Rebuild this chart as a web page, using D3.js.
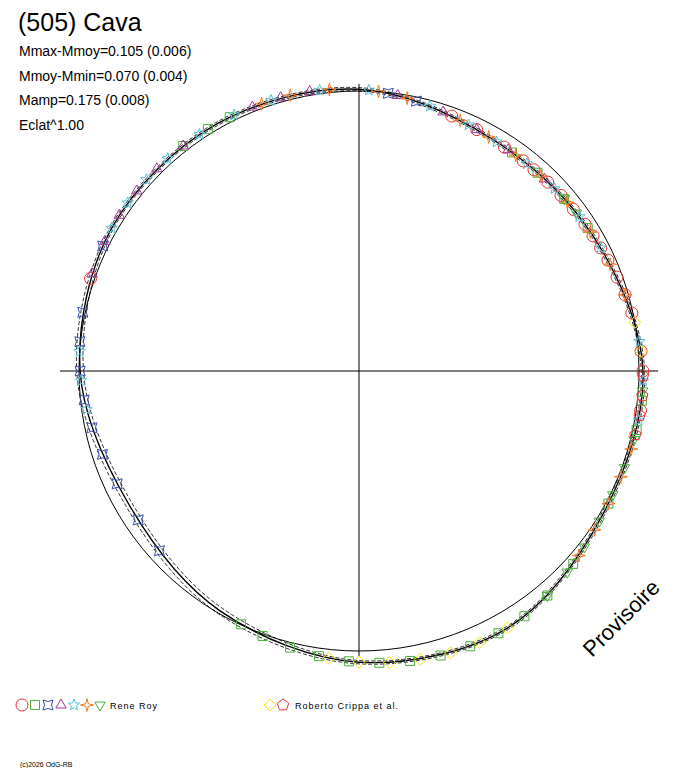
<!DOCTYPE html>
<html><head><meta charset="utf-8">
<script src="https://cdn.jsdelivr.net/npm/d3@7"></script>
<style>body{margin:0;background:#fff}text{font-family:"Liberation Sans",Arial,sans-serif}</style>
</head><body><div id="chart"></div>
<script>
// lightcurve radius (relative to 1.0 = mean) every 30 deg of rotational phase
var curveAngles = [0,30,60,90,120,150,180,210,240,270,300,330];
var curveRadii  = [1.006,0.955,0.965,1.014,1.01,1.06,1.04,0.99,0.95,0.996,1.02,1.018];
var stats = ["Mmax-Mmoy=0.105 (0.006)","Mmoy-Mmin=0.070 (0.004)","Mamp=0.175 (0.008)","Eclat^1.00"];

// observation phases (deg) per session
var series = [
  {name:"circle",   color:"#e8322e", who:"Roy",    phases:[20,26,33,38,41,45,49,53,57,60,63,66,70,74,78,86,90,98,289]},
  {name:"square",   color:"#4caf3c", who:"Roy",    phases:[322,328,333,35,42,50,58,96,102,118,132,140,146,152,158,164,170,176,182,188,194,200,205]},
  {name:"xstar",    color:"#3a4fa8", who:"Roy",    phases:[6,12,228,236,245,252,258,264,270,276,282,296]},
  {name:"triangle", color:"#a03595", who:"Roy",    phases:[290,297,303,309,315,322,338,344,350,8,18,26,34,44]},
  {name:"star",     color:"#5bc0de", who:"Roy",    phases:[300,306,312,318,326,334,342,352,2,15,24,31,39,47,55,63,84,92,100,262,268,274]},
  {name:"star4",    color:"#f27c22", who:"Roy",    phases:[340,346,354,4,10,22,29,36,43,51,59,67,74,106,112,118,124,130]},
  {name:"tridown",  color:"#4caf3c", who:"Roy",    phases:[50,54,94,104,110,116,122,128,134,140]},
  {name:"diamond",  color:"#f5e400", who:"Crippa", phases:[80,86,150,156,162,168,174,180,186]},
  {name:"pentagon", color:"#e8322e", who:"Crippa", phases:[91,95,99,103]}
];

var W=688,H=768,cx=359,cy=371,R=280;
var svg=d3.select("#chart").append("svg").attr("width",W).attr("height",H);

var rScale=d3.scaleLinear().domain([0,1]).range([0,R]);
var ang=d3.scaleLinear().domain([0,360]).range([0,2*Math.PI]);
function pos(deg,r){var a=ang(deg);return [cx+rScale(r)*Math.sin(a),cy-rScale(r)*Math.cos(a)];}

// radius on the smooth curve (periodic Catmull-Rom)
function radiusAt(deg){
  var n=curveAngles.length,step=360/n,t=((deg%360)+360)%360/step,i=Math.floor(t),f=t-i;
  var p0=curveRadii[(i-1+n)%n],p1=curveRadii[i%n],p2=curveRadii[(i+1)%n],p3=curveRadii[(i+2)%n];
  return 0.5*((2*p1)+(-p0+p2)*f+(2*p0-5*p1+4*p2-p3)*f*f+(-p0+3*p1-3*p2+p3)*f*f*f);
}

// axes
svg.append("line").attr("x1",60).attr("x2",658).attr("y1",cy).attr("y2",cy).attr("stroke","#000");
svg.append("line").attr("x1",cx).attr("x2",cx).attr("y1",84).attr("y2",656).attr("stroke","#000");
// reference circle
svg.append("circle").attr("cx",cx).attr("cy",cy).attr("r",R).attr("fill","none").attr("stroke","#000");

// lightcurve (3 slightly different solutions)
var line=d3.line().curve(d3.curveCardinalClosed.tension(0));
[[0,"none",1.4],[-0.006,"4,2",0.8],[0.006,"4,2",0.8]].forEach(function(v){
  svg.append("path").attr("d",line(curveAngles.map(function(a,i){
    var off=(a>180&&a<300)?v[0]*2:v[0];return pos(a,curveRadii[i]+off);})))
    .attr("fill","none").attr("stroke","#000").attr("stroke-width",v[2]).attr("stroke-dasharray",v[1]);
});

function starPath(n,ro,ri){var p=[];for(var i=0;i<2*n;i++){var a=Math.PI*i/n,r=i%2?ri:ro;p.push([r*Math.sin(a),-r*Math.cos(a)]);}return "M"+p.join("L")+"Z";}
function polyPath(n,r,rot){var p=[];for(var i=0;i<n;i++){var a=rot+2*Math.PI*i/n;p.push([r*Math.sin(a),-r*Math.cos(a)]);}return "M"+p.join("L")+"Z";}
var shapes={
  circle:"M6,0A6,6 0 1,1 -6,0A6,6 0 1,1 6,0Z",
  square:"M-4.5,-4.5H4.5V4.5H-4.5Z",
  xstar:"M-5,-5Q0,-2 5,-5Q2,0 5,5Q0,2 -5,5Q-2,0 -5,-5Z",
  triangle:polyPath(3,6,0),
  star:starPath(5,6,2.6),
  star4:starPath(4,6.5,1.8),
  tridown:polyPath(3,6,Math.PI),
  diamond:polyPath(4,6,0),
  pentagon:polyPath(5,6,0)
};

series.forEach(function(s){
  svg.selectAll(null).data(s.phases).enter().append("path")
    .attr("d",shapes[s.name])
    .attr("transform",function(d){var p=pos(d,radiusAt(d));return "translate("+p[0]+","+p[1]+")";})
    .attr("fill","none").attr("stroke",s.color).attr("stroke-width",1);
});

// texts
svg.append("text").attr("x",18).attr("y",31).attr("font-size",25).text("(505) Cava");
svg.selectAll(".st").data(stats).enter().append("text").attr("x",19)
  .attr("y",function(d,i){return 56+i*24.5;}).attr("font-size",14).text(function(d){return d;});
svg.append("text").attr("transform","translate(592,658) rotate(-45)").attr("font-size",22).text("Provisoire");

// legend
var roy=series.filter(function(s){return s.who=="Roy";}),cr=series.filter(function(s){return s.who=="Crippa";});
roy.forEach(function(s,i){svg.append("path").attr("d",shapes[s.name]).attr("transform","translate("+(22+i*13)+",705)").attr("fill","none").attr("stroke",s.color);});
svg.append("text").attr("x",110).attr("y",709).attr("font-size",9).attr("letter-spacing",1).text("Rene Roy");
cr.forEach(function(s,i){svg.append("path").attr("d",shapes[s.name]).attr("transform","translate("+(270+i*13)+",705)").attr("fill","none").attr("stroke",s.color);});
svg.append("text").attr("x",295).attr("y",709).attr("font-size",9).attr("letter-spacing",1).text("Roberto Crippa et al.");
svg.append("text").attr("x",20).attr("y",767).attr("font-size",7).text("(c)2026 OdG-RB");
</script></body></html>
